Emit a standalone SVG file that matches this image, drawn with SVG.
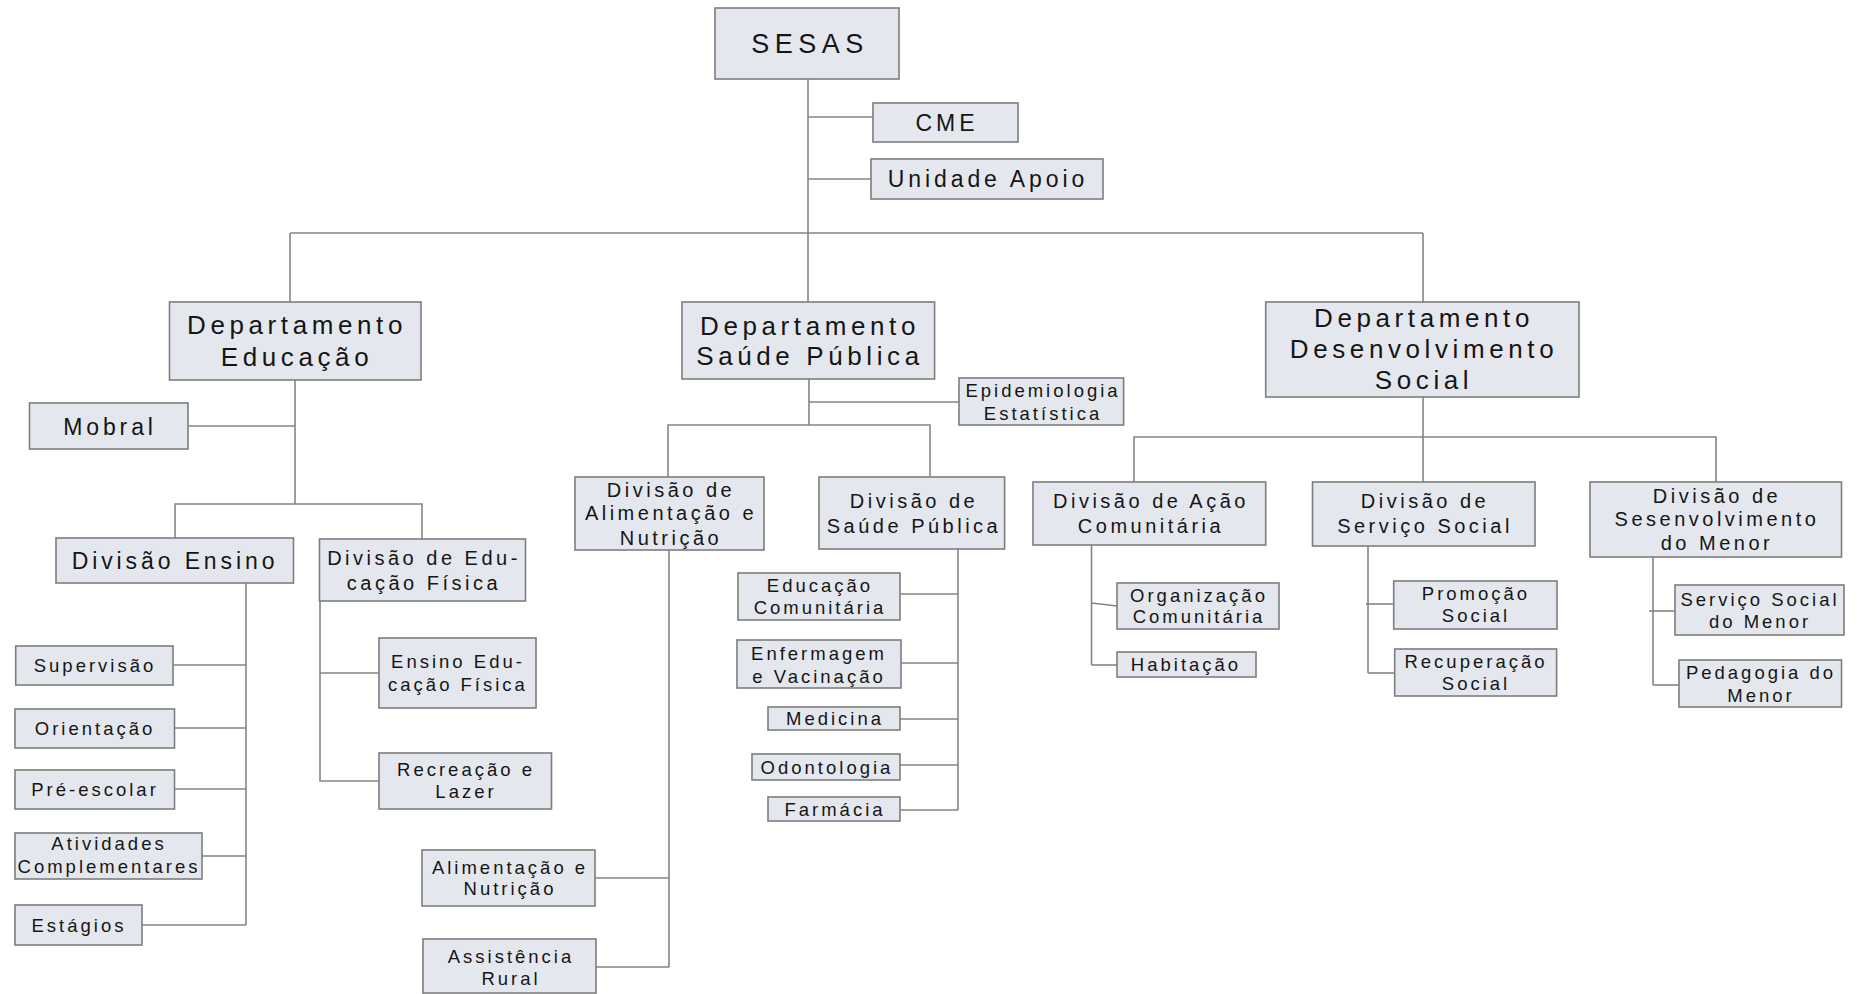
<svg xmlns="http://www.w3.org/2000/svg" width="1863" height="994" viewBox="0 0 1863 994">
<style>
rect{fill:#e4e8ee;stroke:#7d7d7d;stroke-width:1.6}
.c line,.c polyline{stroke:#858585;stroke-width:1.6;fill:none}
text{font-family:"Liberation Sans",Arial,sans-serif;fill:#151515;text-anchor:middle}
.xl{font-size:27px;letter-spacing:5.5px}
.dp{font-size:26px;letter-spacing:4.6px}
.lg{font-size:23px;letter-spacing:3.9px}
.md{font-size:20px;letter-spacing:3.5px}
.sm{font-size:18.5px;letter-spacing:3px}
</style>
<g class="c" id="connectors">
<line x1="808" y1="79" x2="808" y2="302"/>
<line x1="808" y1="117" x2="873" y2="117"/>
<line x1="808" y1="179" x2="871" y2="179"/>
<line x1="290" y1="233" x2="1423" y2="233"/>
<line x1="290" y1="233" x2="290" y2="302"/>
<line x1="1423" y1="233" x2="1423" y2="302"/>
<line x1="295" y1="380" x2="295" y2="504"/>
<line x1="188" y1="426" x2="295" y2="426"/>
<polyline points="175,538 175,504 422,504 422,539"/>
<line x1="246" y1="583" x2="246" y2="925"/>
<line x1="173" y1="665" x2="246" y2="665"/>
<line x1="175" y1="728" x2="246" y2="728"/>
<line x1="175" y1="789" x2="246" y2="789"/>
<line x1="202" y1="856" x2="246" y2="856"/>
<line x1="142" y1="925" x2="246" y2="925"/>
<polyline points="320,601 320,781 379,781"/>
<line x1="320" y1="673" x2="379" y2="673"/>
<line x1="809" y1="379" x2="809" y2="425"/>
<line x1="809" y1="402" x2="959" y2="402"/>
<polyline points="668,477 668,425 930,425 930,477"/>
<line x1="669" y1="550" x2="669" y2="967"/>
<line x1="595" y1="878" x2="669" y2="878"/>
<line x1="596" y1="967" x2="669" y2="967"/>
<line x1="958" y1="549" x2="958" y2="810"/>
<line x1="900" y1="594" x2="958" y2="594"/>
<line x1="901" y1="663" x2="958" y2="663"/>
<line x1="900" y1="719" x2="958" y2="719"/>
<line x1="900" y1="765" x2="958" y2="765"/>
<line x1="900" y1="810" x2="958" y2="810"/>
<line x1="1423" y1="397" x2="1423" y2="482"/>
<polyline points="1134,482 1134,437 1716,437 1716,482"/>
<line x1="1091.5" y1="545" x2="1091.5" y2="665"/>
<line x1="1091.5" y1="603" x2="1117" y2="606"/>
<line x1="1091.5" y1="665" x2="1117" y2="665"/>
<line x1="1368" y1="546" x2="1368" y2="673"/>
<line x1="1366" y1="604" x2="1394" y2="604"/>
<line x1="1368" y1="673" x2="1395" y2="673"/>
<line x1="1653" y1="557" x2="1653" y2="685"/>
<line x1="1649" y1="611" x2="1675" y2="611"/>
<line x1="1653" y1="685" x2="1679" y2="685"/>
</g>
<g id="sesas"><rect x="715" y="8" width="184" height="71"/><text class="xl" x="810" y="53">SESAS</text></g>
<g id="cme"><rect x="873" y="103" width="145" height="39"/><text class="lg" x="947" y="131">CME</text></g>
<g id="unidade-apoio"><rect x="871" y="159" width="232" height="40"/><text class="lg" x="988" y="187">Unidade Apoio</text></g>
<g id="dep-educacao"><rect x="169.5" y="302" width="251.5" height="78"/><text class="dp" x="297" y="334">Departamento</text><text class="dp" x="297" y="366">Educação</text></g>
<g id="mobral"><rect x="29.5" y="403" width="158.5" height="46"/><text class="lg" x="110" y="435">Mobral</text></g>
<g id="div-ensino"><rect x="56" y="538" width="237.5" height="45"/><text class="lg" x="175" y="569">Divisão Ensino</text></g>
<g id="div-ed-fisica"><rect x="319.5" y="539" width="206" height="62"/><text class="md" x="424" y="565">Divisão de Edu-</text><text class="md" x="424" y="590">cação Física</text></g>
<g id="supervisao"><rect x="15.7" y="646" width="157.3" height="39"/><text class="sm" x="95" y="672">Supervisão</text></g>
<g id="orientacao"><rect x="15" y="709" width="159.5" height="39"/><text class="sm" x="95" y="735">Orientação</text></g>
<g id="pre-escolar"><rect x="15" y="770" width="159.5" height="39"/><text class="sm" x="95" y="796">Pré-escolar</text></g>
<g id="atividades"><rect x="15" y="833" width="187" height="46"/><text class="sm" x="109" y="850">Atividades</text><text class="sm" x="109" y="873">Complementares</text></g>
<g id="estagios"><rect x="15" y="905" width="127" height="40"/><text class="sm" x="79" y="932">Estágios</text></g>
<g id="ensino-ed-fisica"><rect x="379" y="638" width="157" height="70"/><text class="sm" x="458" y="668">Ensino Edu-</text><text class="sm" x="458" y="691">cação Física</text></g>
<g id="recreacao"><rect x="379" y="753" width="172.5" height="56"/><text class="sm" x="466" y="776">Recreação e</text><text class="sm" x="466" y="798">Lazer</text></g>
<g id="alimentacao-nutricao"><rect x="422" y="850" width="173" height="56"/><text class="sm" x="510" y="874">Alimentação e</text><text class="sm" x="510" y="895">Nutrição</text></g>
<g id="assistencia-rural"><rect x="423" y="939" width="173" height="54"/><text class="sm" x="511" y="963">Assistência</text><text class="sm" x="511" y="985">Rural</text></g>
<g id="dep-saude"><rect x="682" y="302" width="252.6" height="77"/><text class="dp" x="810" y="335">Departamento</text><text class="dp" x="810" y="365">Saúde Pública</text></g>
<g id="epidemiologia"><rect x="959" y="378" width="164.6" height="47"/><text class="sm" x="1043" y="397">Epidemiologia</text><text class="sm" x="1043" y="420">Estatística</text></g>
<g id="div-alimentacao"><rect x="575" y="477" width="189" height="73"/><text class="md" x="671" y="497">Divisão de</text><text class="md" x="671" y="520">Alimentação e</text><text class="md" x="671" y="545">Nutrição</text></g>
<g id="div-saude"><rect x="819" y="477" width="185.6" height="72"/><text class="md" x="914" y="508">Divisão de</text><text class="md" x="914" y="533">Saúde Pública</text></g>
<g id="educacao-comunitaria"><rect x="738" y="573" width="162" height="47"/><text class="sm" x="820" y="592">Educação</text><text class="sm" x="820" y="614">Comunitária</text></g>
<g id="enfermagem"><rect x="737" y="640" width="164" height="48"/><text class="sm" x="819" y="660">Enfermagem</text><text class="sm" x="819" y="683">e Vacinação</text></g>
<g id="medicina"><rect x="768" y="707" width="132" height="23"/><text class="sm" x="835" y="725">Medicina</text></g>
<g id="odontologia"><rect x="752" y="754" width="148" height="26"/><text class="sm" x="827" y="774">Odontologia</text></g>
<g id="farmacia"><rect x="768" y="797" width="132" height="24"/><text class="sm" x="835" y="816">Farmácia</text></g>
<g id="dep-social"><rect x="1265.7" y="302" width="313.3" height="95"/><text class="dp" x="1424" y="327">Departamento</text><text class="dp" x="1424" y="358">Desenvolvimento</text><text class="dp" x="1424" y="389">Social</text></g>
<g id="div-acao"><rect x="1033" y="482" width="232.7" height="63"/><text class="md" x="1151" y="508">Divisão de Ação</text><text class="md" x="1151" y="533">Comunitária</text></g>
<g id="div-servico"><rect x="1312.5" y="482" width="222.5" height="64"/><text class="md" x="1425" y="508">Divisão de</text><text class="md" x="1425" y="533">Serviço Social</text></g>
<g id="div-menor"><rect x="1590" y="482" width="251.5" height="75"/><text class="md" x="1717" y="503">Divisão de</text><text class="md" x="1717" y="526">Sesenvolvimento</text><text class="md" x="1717" y="550">do Menor</text></g>
<g id="organizacao"><rect x="1117" y="583" width="162" height="46"/><text class="sm" x="1199" y="602">Organização</text><text class="sm" x="1199" y="623">Comunitária</text></g>
<g id="habitacao"><rect x="1117" y="652" width="139" height="25"/><text class="sm" x="1186" y="671">Habitação</text></g>
<g id="promocao"><rect x="1393.7" y="581" width="163.3" height="48"/><text class="sm" x="1476" y="600">Promoção</text><text class="sm" x="1476" y="622">Social</text></g>
<g id="recuperacao"><rect x="1394.7" y="649" width="161.9" height="47"/><text class="sm" x="1476" y="668">Recuperação</text><text class="sm" x="1476" y="690">Social</text></g>
<g id="servico-menor"><rect x="1675" y="585" width="169" height="50"/><text class="sm" x="1760" y="606">Serviço Social</text><text class="sm" x="1760" y="628">do Menor</text></g>
<g id="pedagogia"><rect x="1679" y="660" width="162.5" height="47"/><text class="sm" x="1761" y="679">Pedagogia do</text><text class="sm" x="1761" y="702">Menor</text></g>
</svg>
